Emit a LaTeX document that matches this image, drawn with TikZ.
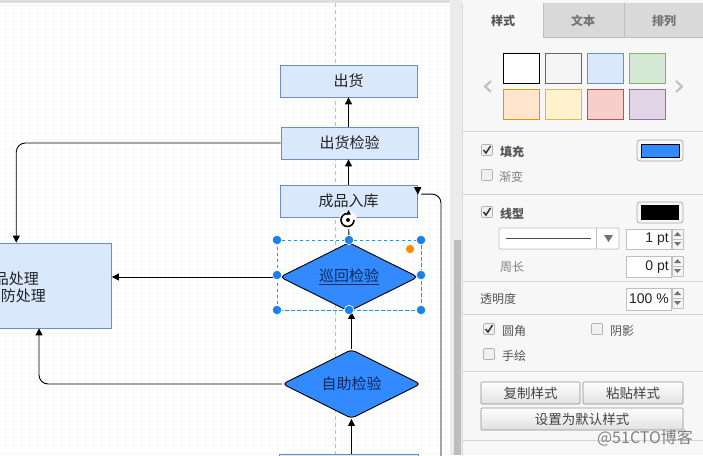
\documentclass[tikz,border=0pt]{standalone}
\usepackage{fontspec}
\setmainfont{Noto Sans CJK SC}
\newfontfamily\latinf{Liberation Sans}
\usetikzlibrary{shapes.geometric,arrows.meta,calc}
\definecolor{boxfill}{HTML}{DAE8FC}
\definecolor{boxline}{HTML}{6C8EBF}
\definecolor{flow}{HTML}{338AFF}
\definecolor{handle}{HTML}{1A80EA}
\definecolor{panel}{HTML}{F7F7F7}
\definecolor{sep}{HTML}{D4D4D4}
\definecolor{ink}{HTML}{222222}
\definecolor{uitext}{HTML}{555555}
\definecolor{navy}{HTML}{0B2A5E}
\tikzset{
  x=1pt,y=-1pt,
  flowbox/.style={draw=boxline,fill=boxfill,line width=.8pt,rectangle,inner sep=0,text=ink,font=\fontsize{15}{17}\selectfont},
  flowdiam/.style={draw=black,fill=flow,line width=.9pt,diamond,aspect=2,inner sep=0,rounded corners=4pt,text=navy,font=\fontsize{15}{17}\selectfont},
  link/.style={draw=black,line width=.9pt,-{Triangle[length=7pt,width=7pt]},rounded corners=9pt},
  plainlink/.style={draw=black,line width=.9pt},
  ui/.style={text=uitext,inner sep=0,font=\fontsize{12}{14}\selectfont},
  uib/.style={text=uitext,inner sep=0,font=\fontsize{12}{14}\selectfont\bfseries},
  field/.style={draw=black!25,fill=white,line width=.7pt},
  btn/.style={draw=black!45,top color=white,bottom color=black!12,line width=.6pt,rounded corners=1pt,text=ink!85,inner sep=0,font=\fontsize{13.5}{15}\selectfont},
  handledot/.style={circle,fill=handle,draw=white,line width=.6pt,minimum size=9.5pt,inner sep=0},
  swatch/.style={line width=.9pt},
  sepline/.style={draw=sep,line width=.8pt},
}
\newcommand{\chk}[3]{% x y checked
  \draw[draw=black!30,fill=black!6,line width=.6pt,rounded corners=1pt] (#1-5.5,#2-5.5) rectangle (#1+5.5,#2+5.5);
  \ifnum#3=1 \draw[line width=1.5pt,black!80] (#1-3.5,#2) -- (#1-1,#2+3) -- (#1+3.5,#2-4); \fi}
\newcommand{\spin}[2]{% x top y mid
  \draw[draw=black!25,fill=black!4,line width=.5pt] (#1,#2-10) rectangle (#1+11,#2+10);
  \draw[black!25,line width=.5pt] (#1,#2) -- (#1+11,#2);
  \fill[black!55] (#1+5.5,#2-7) -- (#1+9,#2-3) -- (#1+2,#2-3) -- cycle;
  \fill[black!55] (#1+5.5,#2+7) -- (#1+9,#2+3) -- (#1+2,#2+3) -- cycle;}
\begin{document}
\begin{tikzpicture}
\useasboundingbox (0,0) rectangle (703,455);
\clip (0,0) rectangle (703,455);
\fill[white] (0,0) rectangle (703,455);
% grid of the canvas
\foreach \g in {0,16,...,448} {\draw[black!6,line width=.9pt] (\g+5,3) -- (\g+5,455);}
\foreach \g in {0,16,...,448} {\draw[black!6,line width=.9pt] (0,\g+5) -- (449,\g+5);}
\foreach \g in {0,8,...,448} {\draw[black!3,line width=.4pt] (\g+5,3) -- (\g+5,455);}
\foreach \g in {0,8,...,448} {\draw[black!3,line width=.4pt] (0,\g+5) -- (449,\g+5);}
\fill[black!13] (0,0) rectangle (450,3);
% centre guide
\draw[black!25,dash pattern=on 4pt off 3pt,line width=.6pt] (335.5,3) -- (335.5,455);
% nodes
\node[flowbox,minimum width=137pt,minimum height=32pt] (ship) at (348.5,81) {出货};
\node[flowbox,minimum width=137pt,minimum height=32pt] (check) at (349.5,143) {出货检验};
\node[flowbox,minimum width=137pt,minimum height=32pt] (store) at (348.5,201) {成品入库};
\node[flowbox,minimum width=151pt,minimum height=85pt] (treat) at (36,285.5) {};
\node[flowbox,minimum width=139pt,minimum height=36pt] (bottom) at (348.5,472) {};
\node[flowdiam,minimum width=138pt,minimum height=69pt] (patrol) at (349,277) {\underline{巡回检验}};
\node[flowdiam,minimum width=138pt,minimum height=69pt] (self) at (351.5,384) {自助检验};
\node[text=ink,inner sep=0,anchor=east,font=\fontsize{15}{17}\selectfont] (t1) at (39,279) {品处理};
\node[text=ink,inner sep=0,anchor=east,font=\fontsize{15}{17}\selectfont] (t2) at (46,296) {防处理};
% connectors
\draw[link] (check.north -| ship) -- (ship.south);
\draw[link] (store.north) -- (store.north |- check.south);
\draw[plainlink] (patrol.north) -- (store.south);
\draw[link] (self.north) -- (self.north |- patrol.south);
\draw[link] (bottom.north -| self) -- (self.south);
\draw[link] (check.west) -| ($(treat.north west)!0.37!(treat.north east)$);
\draw[link] (patrol.west) -- (patrol.west -| treat.east);
\draw[link] (self.west) -| ($(treat.south west)!0.52!(treat.south east)$);
\coordinate (backstart) at (441,470);
\coordinate (backend) at ($(store.north east)+(4,9.5)$);
\draw[plainlink,rounded corners=9pt] (backstart) |- (backend);
\fill[black] (store.north east)++(-3.5,2.5) -- ++(7.5,0) -- ++(-3.5,7.5) -- cycle;
% selection
\draw[draw=handle!80!cyan,line width=.7pt,dash pattern=on 3.5pt off 2.5pt] (277,240.5) rectangle (421,310.5);
\foreach \hx/\hy/\hn in {277/240/a,349/240/b,421/240/c,277/275/d,421/275/e,277/310/f,349/310/g,421/310/h}
  \node[handledot] (h\hn) at (\hx,\hy) {};
\node[circle,fill=orange!90!yellow,draw=white,line width=.5pt,minimum size=9pt,inner sep=0] (hover) at (410,249) {};
% rotation handle
\fill[white] (348,220) circle (9pt);
\draw[black,line width=1.6pt,-{Triangle[length=4pt,width=5pt]}] (354,220) arc[start angle=0,end angle=-300,radius=6.5pt];
\fill[black] (348,220) circle (2pt);
% panel
\fill[panel] (450,0) rectangle (703,455);
\fill[black!8] (450,0) rectangle (462,455);
\fill[black!26] (454,240) rectangle (460.5,455);
\draw[black!15,line width=.6pt] (462,3) -- (462,455);
\fill[black!15] (543,3) rectangle (703,37);
\draw[black!25,line width=.6pt] (543,3) -- (543,37) -- (703,37);
\draw[black!25,line width=.6pt] (624,3) -- (624,37);
\node[uib] (tab1) at (503,21) {样式};
\node[uib,text=black!55] (tab2) at (583,21) {文本};
\node[uib,text=black!55] (tab3) at (664,21) {排列};
% swatches
\definecolor{sw1}{HTML}{F5F5F5}\definecolor{sw1d}{HTML}{666666}
\definecolor{sw2}{HTML}{D5E8D4}\definecolor{sw2d}{HTML}{82B366}
\definecolor{sw3}{HTML}{FFE6CC}\definecolor{sw3d}{HTML}{D79B00}
\definecolor{sw4}{HTML}{FFF2CC}\definecolor{sw4d}{HTML}{D6B656}
\definecolor{sw5}{HTML}{F8CECC}\definecolor{sw5d}{HTML}{B85450}
\definecolor{sw6}{HTML}{E1D5E7}\definecolor{sw6d}{HTML}{9673A6}
\draw[swatch,draw=black,fill=white] (503,53) rectangle (539,83);
\draw[swatch,draw=sw1d,fill=sw1] (545,53) rectangle (581,83);
\draw[swatch,draw=boxline,fill=boxfill] (587,53) rectangle (623,83);
\draw[swatch,draw=sw2d,fill=sw2] (629,53) rectangle (665,83);
\draw[swatch,draw=sw3d,fill=sw3] (503,89) rectangle (539,119);
\draw[swatch,draw=sw4d,fill=sw4] (545,89) rectangle (581,119);
\draw[swatch,draw=sw5d,fill=sw5] (587,89) rectangle (623,119);
\draw[swatch,draw=sw6d,fill=sw6] (629,89) rectangle (665,119);
\draw[black!25,line width=2pt] (491,81) -- (485,86.5) -- (491,92);
\draw[black!25,line width=2pt] (676,81) -- (682,86.5) -- (676,92);
% separators
\foreach \s in {131,194,281,314,371,440} {\draw[sepline] (463,\s) -- (703,\s);}
% fill
\chk{487}{150}{1}
\node[uib] (lfill) at (512,152) {填充};
\draw[draw=black!35,fill=black!3,line width=.7pt,rounded corners=3pt] (637,140) rectangle (683,161);
\draw[draw=black,fill=flow,line width=.8pt] (641,144) rectangle (679,157);
\chk{487}{175}{0}
\node[ui,text=black!50] (lgrad) at (511,177) {渐变};
% line
\chk{487}{212}{1}
\node[uib] (lline) at (512,214) {线型};
\draw[draw=black!35,fill=black!3,line width=.7pt,rounded corners=3pt] (637,202) rectangle (683,223);
\fill[black] (641,205) rectangle (679,220);
\draw[field,rounded corners=2pt] (499,228) rectangle (619,249);
\draw[black!25,line width=.6pt] (596,228) -- (596,249);
\draw[black!70,line width=.7pt] (506,238) -- (591,238);
\fill[black!55] (604,235) -- (613,235) -- (608.5,242) -- cycle;
\draw[field] (626,229) rectangle (671,249);
\node[ink,inner sep=0,anchor=east,font=\latinf\fontsize{14}{16}\selectfont] (lw) at (669,239) {1 pt};
\spin{672}{239}
\node[ui,text=black!50] (lper) at (512,267) {周长};
\draw[field] (626,256) rectangle (671,277);
\node[ink,inner sep=0,anchor=east,font=\latinf\fontsize{14}{16}\selectfont] (lp) at (669,267) {0 pt};
\spin{672}{266}
% opacity
\node[ui] (lop) at (498,299) {透明度};
\draw[field] (626,288) rectangle (671,310);
\node[ink,inner sep=0,anchor=east,font=\latinf\fontsize{14}{16}\selectfont] (lo) at (669,299) {100 \%};
\spin{672}{298}
% options
\chk{489}{329}{1}
\node[ui] (lr) at (514,331) {圆角};
\chk{597}{329}{0}
\node[ui] (ls) at (622,331) {阴影};
\chk{489}{354}{0}
\node[ui] (lh) at (514,356) {手绘};
% buttons
\node[btn,minimum width=99pt,minimum height=22pt] (bcopy) at (530.5,393) {复制样式};
\node[btn,minimum width=100pt,minimum height=22pt] (bpaste) at (633,393) {粘贴样式};
\node[btn,minimum width=202pt,minimum height=22pt] (bdef) at (582,419) {设置为默认样式};
% watermark
\node[text=black!50,inner sep=0,font=\fontsize{16}{18}\selectfont] (wm) at (645,438) {@51CTO博客};
\end{tikzpicture}
\end{document}
